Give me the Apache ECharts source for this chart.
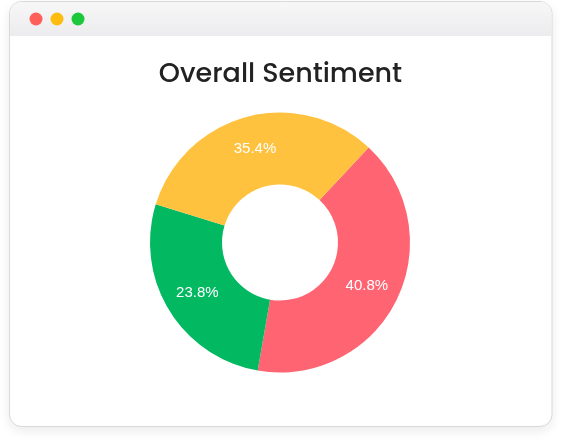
<!DOCTYPE html>
<html>
<head>
<meta charset="utf-8">
<style>
  html, body { margin: 0; padding: 0; background: #fff; }
  #chart { width: 561px; height: 444px; }
</style>
<script src="https://cdn.jsdelivr.net/npm/echarts@6/dist/echarts.min.js"></script>
</head>
<body>
<div id="chart"></div>
<script>
// slice order is clockwise from the red slice
const categories = ['Negative', 'Positive', 'Neutral']
const sliceValues = [40.8, 27.0, 32.2]
// percentages printed on the slices
const sliceLabels = ['40.8%', '23.8%', '35.4%']
const sliceColors = ['#ff6472', '#02b962', '#ffc23f']

const chart = echarts.init(document.getElementById('chart'))

const option = {
  backgroundColor: '#fff',
  animation: false,
  graphic: [
    {
      type: 'rect',
      shape: { x: 9.5, y: 1.5, width: 542.5, height: 425, r: 12 },
      style: {
        fill: '#fff',
        stroke: '#d9d9d9',
        lineWidth: 1,
        shadowBlur: 12,
        shadowColor: 'rgba(0,0,0,0.08)',
        shadowOffsetY: 4,
      },
      z: 0,
    },
    {
      type: 'rect',
      shape: { x: 10, y: 2, width: 541.5, height: 34, r: [11, 11, 0, 0] },
      style: {
        fill: new echarts.graphic.LinearGradient(0, 0, 0, 1, [
          { offset: 0, color: '#f7f7f8' },
          { offset: 1, color: '#ececee' },
        ]),
      },
      z: 1,
    },
    { type: 'circle', shape: { cx: 36, cy: 19, r: 6.5 }, style: { fill: '#fe5f58' }, z: 2 },
    { type: 'circle', shape: { cx: 57, cy: 19, r: 6.5 }, style: { fill: '#febc10' }, z: 2 },
    { type: 'circle', shape: { cx: 78, cy: 19, r: 6.5 }, style: { fill: '#1cc73a' }, z: 2 },
  ],
  title: {
    text: 'Overall Sentiment',
    left: 'center',
    top: 57,
    textStyle: {
      fontFamily: 'Poppins, Inter, "Noto Sans", sans-serif',
      fontSize: 27,
      fontWeight: 500,
      color: '#222',
    },
  },
  series: [
    {
      type: 'pie',
      center: [280, 242.5],
      radius: [58, 130],
      startAngle: 47,
      clockwise: true,
      silent: true,
      label: {
        show: true,
        position: 'inside',
        color: '#fff',
        fontFamily: '"Liberation Sans", Arial, sans-serif',
        fontSize: 15,
        fontWeight: 'normal',
        formatter: p => sliceLabels[p.dataIndex],
      },
      labelLine: { show: false },
      data: categories.map((name, i) => ({
        name,
        value: sliceValues[i],
        itemStyle: { color: sliceColors[i] },
      })),
    },
  ],
}

chart.setOption(option)
</script>
</body>
</html>
